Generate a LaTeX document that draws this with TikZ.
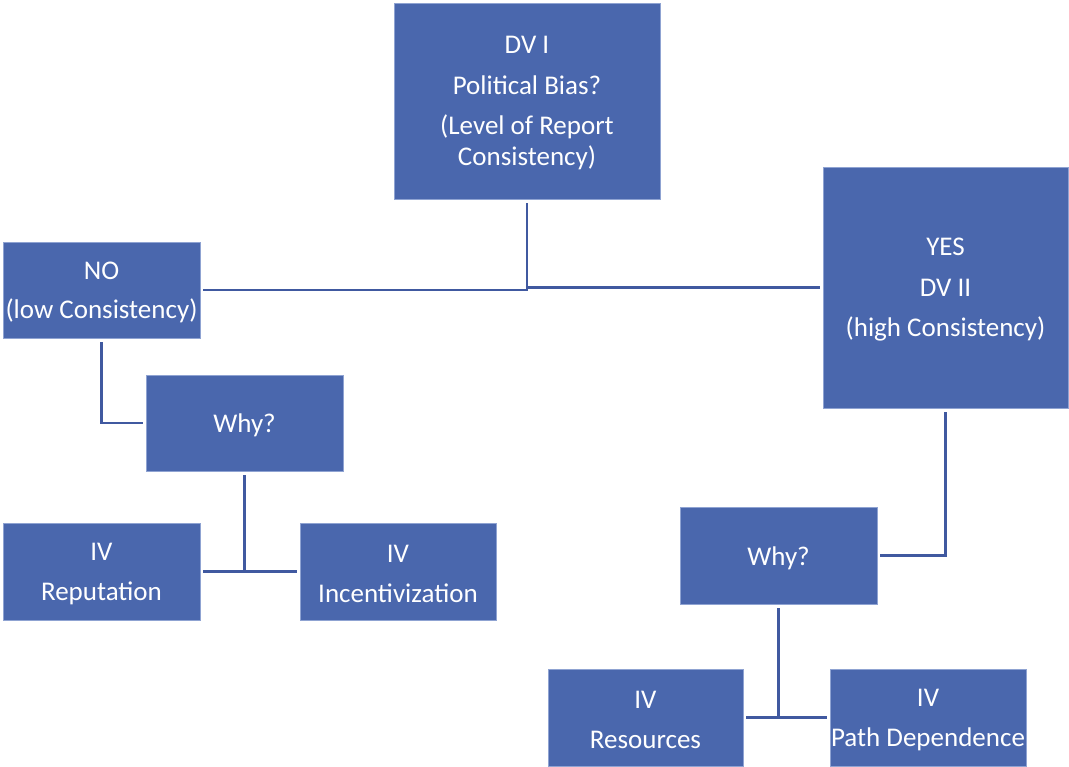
\documentclass[tikz,border=0pt]{standalone}
\usepackage{fontspec}
\setmainfont{Carlito}
\definecolor{boxfill}{RGB}{74,103,173}
\definecolor{boxedge}{RGB}{143,163,210}
\definecolor{linkblue}{RGB}{64,89,160}
\begin{document}
\begin{tikzpicture}[x=1pt,y=-1pt,
  box/.style={draw=boxedge, line width=0.8pt, fill=boxfill, inner sep=0pt},
  txt/.style={text=white, align=center, inner sep=0pt, yshift=-2.5pt,
    font=\fontsize{27}{31}\selectfont},
  link/.style={draw=linkblue, line width=2.6pt}]
\useasboundingbox (0,0) rectangle (1069,767);

% decision boxes
\node[box, minimum width=266pt, minimum height=196pt,
  label={[txt]center:{DV I\\[9.5pt] Political Bias?\\[9.5pt] (Level of Report\\ Consistency)}}]
  (dv1) at (527,101) {};
\node[box, minimum width=197pt, minimum height=96pt,
  label={[txt]center:{NO\\[8.5pt] (low Consistency)}}]
  (no) at (101.5,290) {};
\node[box, minimum width=245pt, minimum height=241pt,
  label={[txt]center:{YES\\[9.5pt] DV II\\[9.5pt] (high Consistency)}}]
  (yes) at (945.5,287.5) {};

% left branch
\node[box, minimum width=197pt, minimum height=96pt,
  label={[txt]center:{Why?}}] (whyL) at (244.5,423) {};
\node[box, minimum width=197pt, minimum height=97pt,
  label={[txt]center:{IV\\[9.5pt] Reputation}}] (rep) at (101.5,571.5) {};
\node[box, minimum width=196pt, minimum height=97pt,
  label={[txt]center:{IV\\[9.5pt] Incentivization}}] (inc) at (398,571.5) {};

% right branch
\node[box, minimum width=197pt, minimum height=97pt,
  label={[txt]center:{Why?}}] (whyR) at (778.5,555.5) {};
\node[box, minimum width=195pt, minimum height=97pt,
  label={[txt]center:{IV\\[9.5pt] Resources}}] (res) at (645.5,717.5) {};
\node[box, minimum width=196pt, minimum height=97pt,
  label={[txt]center:{IV\\[9.5pt] Path Dependence}}] (path) at (928,717.5) {};

% connectors
\draw[link] ([yshift=-4pt]dv1.south) |- ([xshift=3pt]no.east);
\draw[link] ([yshift=-4pt]dv1.south) |- ([xshift=-3pt]yes.west);
\draw[link] ([yshift=-4pt]no.south) |- ([xshift=-3pt]whyL.west);
\draw[link] ([yshift=-4pt]whyL.south) -- (whyL.south |- rep.east);
\draw[link] ([xshift=3pt]rep.east) -- ([xshift=-3pt]inc.west);
\draw[link] ([yshift=-4pt]yes.south) |- ([xshift=3pt]whyR.east);
\draw[link] ([yshift=-4pt]whyR.south) -- (whyR.south |- res.east);
\draw[link] ([xshift=3pt]res.east) -- ([xshift=-3pt]path.west);
\end{tikzpicture}
\end{document}
